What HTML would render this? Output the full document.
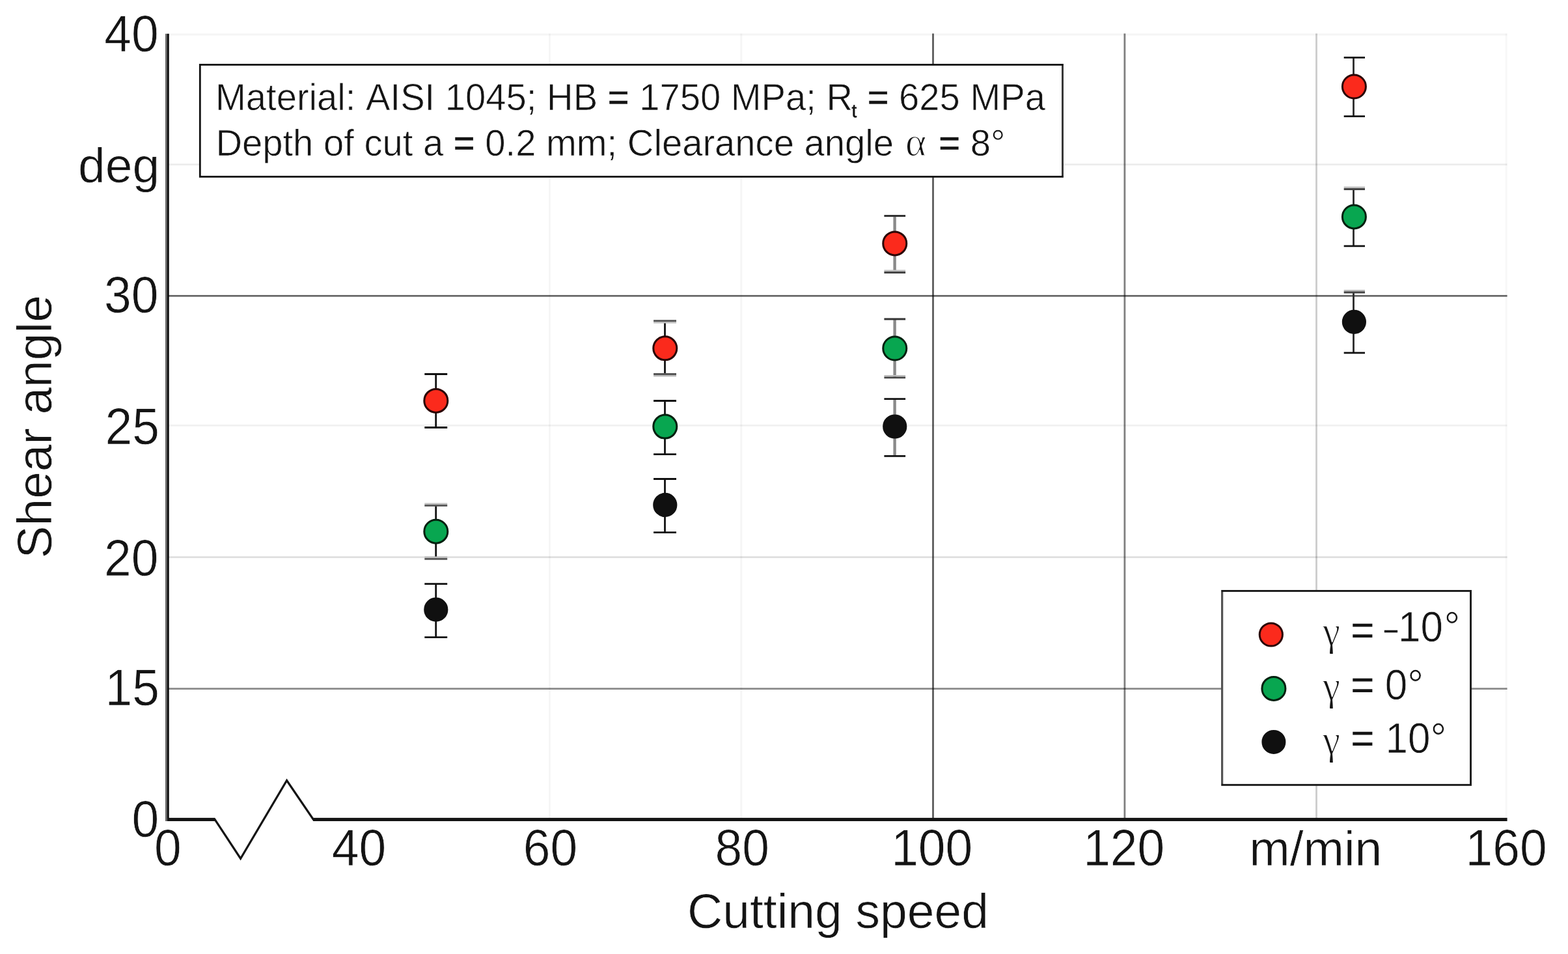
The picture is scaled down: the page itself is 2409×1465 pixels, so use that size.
<!DOCTYPE html>
<html lang="en"><head><meta charset="utf-8"><title>Shear angle vs cutting speed</title>
<style>html,body{margin:0;padding:0;background:#fff}body{width:2409px;height:1465px;overflow:hidden}svg{display:block}text{font-family:"Liberation Sans",Arial,Helvetica,sans-serif;fill:#141414;font-kerning:none;text-rendering:geometricPrecision;white-space:pre;stroke:#fff;stroke-width:0.7px}.sym{font-family:"Liberation Serif","DejaVu Serif",serif;stroke-width:1.3px}</style></head><body>
<svg width="2409" height="1465" viewBox="0 0 2409 1465" role="img" aria-label="Shear angle versus cutting speed for three rake angles">
<rect width="2409" height="1465" fill="#fff"/>
<g stroke="#000" stroke-width="2.8" fill="none">
<line x1="258" x2="2315.6" y1="53" y2="53" stroke-opacity="0.04"/>
<line x1="258" x2="2315.6" y1="252.7" y2="252.7" stroke-opacity="0.075"/>
<line x1="258" x2="2315.6" y1="454.4" y2="454.4" stroke-opacity="0.59"/>
<line x1="258" x2="2315.6" y1="653.4" y2="653.4" stroke-opacity="0.055"/>
<line x1="258" x2="2315.6" y1="855.6" y2="855.6" stroke-opacity="0.125"/>
<line x1="258" x2="2315.6" y1="1057.7" y2="1057.7" stroke-opacity="0.46"/>
<line y1="51.5" y2="1258" x1="844.5" x2="844.5" stroke-opacity="0.04"/>
<line y1="51.5" y2="1258" x1="1138.8" x2="1138.8" stroke-opacity="0.04"/>
<line y1="51.5" y2="1258" x1="1433.5" x2="1433.5" stroke-opacity="0.64"/>
<line y1="51.5" y2="1258" x1="1727.9" x2="1727.9" stroke-opacity="0.5"/>
<line y1="51.5" y2="1258" x1="2022.5" x2="2022.5" stroke-opacity="0.2"/>
<line y1="51.5" y2="1258" x1="2314.1" x2="2314.1" stroke-opacity="0.03"/>
</g>
<rect x="254" y="51.8" width="3.2" height="1209.2" fill="#666"/>
<rect x="257" y="51.8" width="2.7" height="1209.2" fill="#0a0a0a"/>
<rect x="257" y="1255.9" width="73.6" height="5.1" fill="#141414"/>
<rect x="481" y="1255.9" width="1834.6" height="5.1" fill="#141414"/>
<polyline points="328,1258.5 330.2,1258.5 369.6,1318.5 440.6,1198.5 481.4,1258.5 484,1258.5" fill="none" stroke="#141414" stroke-width="3.2" stroke-linejoin="miter" stroke-miterlimit="10"/>
<line x1="669.7" x2="669.7" y1="574.5" y2="656.5" stroke="#111" stroke-width="2.8"/>
<line x1="652.3" x2="687.2" y1="574.5" y2="574.5" stroke="#111" stroke-width="2.8"/>
<line x1="652.3" x2="687.2" y1="656.5" y2="656.5" stroke="#111" stroke-width="2.8"/>
<circle cx="669.8" cy="615.4" r="18" fill="#fb2a1c" stroke="#2a0505" stroke-width="3"/>
<line x1="669.7" x2="669.7" y1="776.3" y2="858.4" stroke="#111" stroke-width="2.8"/>
<line x1="652.3" x2="687.2" y1="773.7" y2="773.7" stroke="#bdbdbd" stroke-width="2.6"/>
<line x1="652.3" x2="687.2" y1="776.3" y2="776.3" stroke="#555" stroke-width="2.8"/>
<line x1="652.3" x2="687.2" y1="855.8" y2="855.8" stroke="#bdbdbd" stroke-width="2.6"/>
<line x1="652.3" x2="687.2" y1="858.4" y2="858.4" stroke="#555" stroke-width="2.8"/>
<circle cx="669.8" cy="816.2" r="18" fill="#08a650" stroke="#04200f" stroke-width="3"/>
<line x1="669.7" x2="669.7" y1="896.6" y2="978.6" stroke="#111" stroke-width="2.8"/>
<line x1="652.3" x2="687.2" y1="896.6" y2="896.6" stroke="#111" stroke-width="2.8"/>
<line x1="652.3" x2="687.2" y1="978.6" y2="978.6" stroke="#111" stroke-width="2.8"/>
<circle cx="669.8" cy="936.2" r="17.1" fill="#101010" stroke="#101010" stroke-width="3"/>
<line x1="1021.5" x2="1021.5" y1="492.6" y2="574.5" stroke="#111" stroke-width="2.8"/>
<line x1="1004.1" x2="1039" y1="495.2" y2="495.2" stroke="#bdbdbd" stroke-width="2.6"/>
<line x1="1004.1" x2="1039" y1="492.6" y2="492.6" stroke="#555" stroke-width="2.8"/>
<line x1="1004.1" x2="1039" y1="577.1" y2="577.1" stroke="#bdbdbd" stroke-width="2.6"/>
<line x1="1004.1" x2="1039" y1="574.5" y2="574.5" stroke="#555" stroke-width="2.8"/>
<circle cx="1021.8" cy="534.85" r="18" fill="#fb2a1c" stroke="#2a0505" stroke-width="3"/>
<line x1="1021.5" x2="1021.5" y1="615.5" y2="697.6" stroke="#111" stroke-width="2.8"/>
<line x1="1004.1" x2="1039" y1="615.5" y2="615.5" stroke="#111" stroke-width="2.8"/>
<line x1="1004.1" x2="1039" y1="697.6" y2="697.6" stroke="#111" stroke-width="2.8"/>
<circle cx="1021.8" cy="655.1" r="18" fill="#08a650" stroke="#04200f" stroke-width="3"/>
<line x1="1021.5" x2="1021.5" y1="735.5" y2="817.6" stroke="#111" stroke-width="2.8"/>
<line x1="1004.1" x2="1039" y1="735.5" y2="735.5" stroke="#111" stroke-width="2.8"/>
<line x1="1004.1" x2="1039" y1="817.6" y2="817.6" stroke="#111" stroke-width="2.8"/>
<circle cx="1021.8" cy="775.4" r="17.1" fill="#101010" stroke="#101010" stroke-width="3"/>
<line x1="1374.6" x2="1374.6" y1="331.5" y2="418.5" stroke="#8a8a8a" stroke-width="4.4"/>
<line x1="1358.4" x2="1391.1" y1="331.5" y2="331.5" stroke="#333" stroke-width="2.8"/>
<line x1="1358.4" x2="1391.1" y1="415.9" y2="415.9" stroke="#bdbdbd" stroke-width="2.6"/>
<line x1="1358.4" x2="1391.1" y1="418.5" y2="418.5" stroke="#444" stroke-width="2.8"/>
<circle cx="1374.75" cy="373.9" r="18" fill="#fb2a1c" stroke="#2a0505" stroke-width="3"/>
<line x1="1374.6" x2="1374.6" y1="490" y2="579.8" stroke="#8a8a8a" stroke-width="4.4"/>
<line x1="1358.4" x2="1391.1" y1="490" y2="490" stroke="#333" stroke-width="2.8"/>
<line x1="1358.4" x2="1391.1" y1="577.2" y2="577.2" stroke="#bdbdbd" stroke-width="2.6"/>
<line x1="1358.4" x2="1391.1" y1="579.8" y2="579.8" stroke="#444" stroke-width="2.8"/>
<circle cx="1374.75" cy="535" r="18" fill="#08a650" stroke="#04200f" stroke-width="3"/>
<line x1="1374.6" x2="1374.6" y1="612.7" y2="700.3" stroke="#8a8a8a" stroke-width="4.4"/>
<line x1="1358.4" x2="1391.1" y1="612.7" y2="612.7" stroke="#111" stroke-width="2.8"/>
<line x1="1358.4" x2="1391.1" y1="700.3" y2="700.3" stroke="#111" stroke-width="2.8"/>
<circle cx="1374.75" cy="655" r="17.1" fill="#101010" stroke="#101010" stroke-width="3"/>
<line x1="2079.5" x2="2079.5" y1="88.45" y2="178.6" stroke="#2a2a2a" stroke-width="2.8"/>
<line x1="2064.7" x2="2097" y1="88.45" y2="88.45" stroke="#111" stroke-width="2.8"/>
<line x1="2064.7" x2="2097" y1="178.6" y2="178.6" stroke="#111" stroke-width="2.8"/>
<circle cx="2080.4" cy="133" r="18" fill="#fb2a1c" stroke="#2a0505" stroke-width="3"/>
<line x1="2079.5" x2="2079.5" y1="290.5" y2="377.9" stroke="#2a2a2a" stroke-width="2.8"/>
<line x1="2064.7" x2="2097" y1="287.9" y2="287.9" stroke="#bdbdbd" stroke-width="2.6"/>
<line x1="2064.7" x2="2097" y1="290.5" y2="290.5" stroke="#444" stroke-width="2.8"/>
<line x1="2064.7" x2="2097" y1="377.9" y2="377.9" stroke="#111" stroke-width="2.8"/>
<circle cx="2080.4" cy="332.95" r="18" fill="#08a650" stroke="#04200f" stroke-width="3"/>
<line x1="2079.5" x2="2079.5" y1="449" y2="541.85" stroke="#2a2a2a" stroke-width="2.8"/>
<line x1="2064.7" x2="2097" y1="446.4" y2="446.4" stroke="#bdbdbd" stroke-width="2.6"/>
<line x1="2064.7" x2="2097" y1="449" y2="449" stroke="#444" stroke-width="2.8"/>
<line x1="2064.7" x2="2097" y1="541.85" y2="541.85" stroke="#111" stroke-width="2.8"/>
<circle cx="2080.4" cy="494.3" r="17.1" fill="#101010" stroke="#101010" stroke-width="3"/>
<text transform="translate(160.31,78.60) scale(1,1.058)" font-size="75">40</text>
<text transform="translate(160.11,480.40) scale(1,1.058)" font-size="75">30</text>
<text transform="translate(161.43,681.70) scale(1,1.058)" font-size="75">25</text>
<text transform="translate(160.11,883.70) scale(1,1.058)" font-size="75">20</text>
<text transform="translate(161.43,1083.30) scale(1,1.058)" font-size="75">15</text>
<text transform="translate(202.52,1285.00) scale(1,1.058)" font-size="75">0</text>
<text x="120.00" y="279.80" font-size="75">deg</text>
<text transform="translate(237.04,1328.80) scale(1,1.058)" font-size="75">0</text>
<text transform="translate(509.79,1328.80) scale(1,1.058)" font-size="75">40</text>
<text transform="translate(803.75,1328.80) scale(1,1.058)" font-size="75">60</text>
<text transform="translate(1098.52,1328.80) scale(1,1.058)" font-size="75">80</text>
<text transform="translate(1369.14,1328.80) scale(1,1.058)" font-size="75">100</text>
<text transform="translate(1664.14,1328.80) scale(1,1.058)" font-size="75">120</text>
<text transform="translate(2251.54,1328.80) scale(1,1.058)" font-size="75">160</text>
<text x="1919.16" y="1329.10" font-size="75">m/min</text>
<text x="1056.10" y="1425.20" font-size="75">Cutting speed</text>
<text transform="translate(78.6,857.58) rotate(-90)" font-size="75">Shear angle</text>
<rect x="307.3" y="99.4" width="1325.2" height="171.95" fill="#fff" stroke="#111" stroke-width="2.8"/>
<line x1="1632.5" x2="1632.5" y1="101" y2="269.8" stroke="#383838" stroke-width="3"/>
<text transform="translate(331,169) scale(1,1.03)" font-size="56.2">Material: AISI 1045; HB <tspan stroke="#141414" stroke-width="0.45">=</tspan> 1750 MPa; R<tspan x="977.6" dy="10.29" font-size="28" stroke="#141414" stroke-width="0.5">t</tspan><tspan x="986.0" dy="-10.29"> <tspan stroke="#141414" stroke-width="0.45">=</tspan> 625 MPa</tspan></text>
<text transform="translate(0,239.3) scale(1,1.015)" x="331.4" font-size="56.2">Depth of cut a <tspan stroke="#141414" stroke-width="0.45">=</tspan> 0.2 mm; Clearance angle <tspan class="sym" x="1391.0" font-size="61.5">α</tspan><tspan x="1426.7"> <tspan stroke="#141414" stroke-width="0.45">=</tspan> 8°</tspan></text>
<rect x="1877.65" y="907.45" width="381.9" height="297.9" fill="#fff" stroke="#1a1a1a" stroke-width="2.9"/>
<line x1="1877.65" x2="1877.65" y1="909" y2="1203.8" stroke="#555" stroke-width="2.9"/>
<circle cx="1952.8" cy="974.5" r="17.6" fill="#fb2a1c" stroke="#2a0505" stroke-width="3"/>
<circle cx="1956.9" cy="1057.4" r="18" fill="#08a650" stroke="#04200f" stroke-width="3"/>
<circle cx="1956.9" cy="1139.4" r="17" fill="#101010" stroke="#101010" stroke-width="3"/>
<text transform="translate(0,985.00) scale(1,1.058)" font-size="62"><tspan class="sym" x="2032.1" y="6.12" font-size="61.1">γ</tspan><tspan x="2058.05" y="4.33"> <tspan stroke="none">=</tspan> </tspan><tspan x="2125.1" y="-0.54" font-size="41" stroke="#141414" stroke-width="0.4">−</tspan><tspan x="2148.00" y="0">10<tspan dx="1.5">°</tspan></tspan></text>
<text transform="translate(0,1073.50) scale(1,1.058)" font-size="62"><tspan class="sym" x="2032.1" y="1.86" font-size="61.1">γ</tspan><tspan x="2058.05" y="0.08"> <tspan stroke="none">=</tspan> </tspan><tspan x="2127.68" y="0">0°</tspan></text>
<text transform="translate(0,1156.00) scale(1,1.058)" font-size="62"><tspan class="sym" x="2032.1" y="1.86" font-size="61.1">γ</tspan><tspan x="2058.05" y="0.17"> <tspan stroke="none">=</tspan> </tspan><tspan x="2128.60" y="0">10°</tspan></text>
</svg></body></html>
